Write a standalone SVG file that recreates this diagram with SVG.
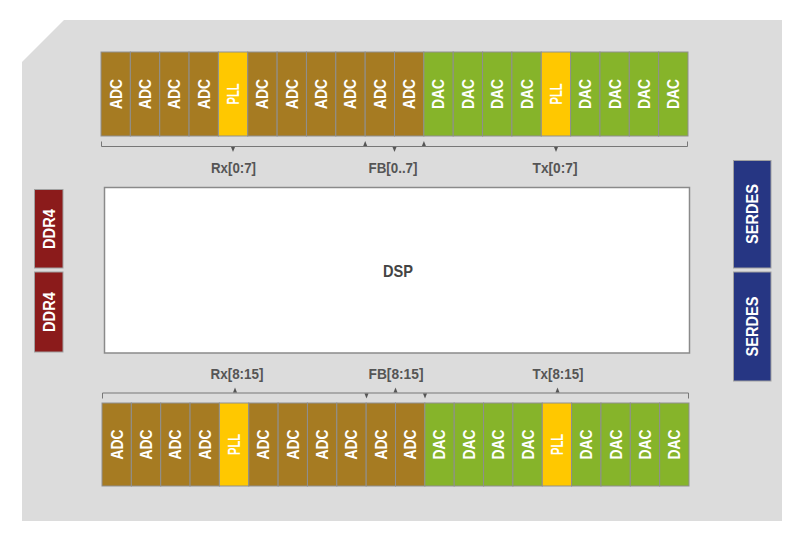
<svg xmlns="http://www.w3.org/2000/svg" width="800" height="539" viewBox="0 0 800 539">
<style>
.cell{stroke:#8f8f8f;stroke-width:1}
.adc{fill:#A67B22}
.pll{fill:#FFC800}
.dac{fill:#86B42A}
.ddr{fill:#8B1B1B;stroke:#a0a0a0;stroke-width:1}
.ser{fill:#263683;stroke:#a0a0a0;stroke-width:1}
.t{font-family:"Liberation Sans",Arial,sans-serif;font-weight:bold;font-size:16.5px;fill:#ffffff;text-anchor:middle}
.lbl{font-family:"Liberation Sans",Arial,sans-serif;font-weight:bold;font-size:14px;fill:#555555;text-anchor:middle}
.dsp{font-family:"Liberation Sans",Arial,sans-serif;font-weight:bold;font-size:17px;fill:#444444;text-anchor:middle}
.br{stroke:#777777;stroke-width:1;fill:none}
.ah{fill:#555555}
</style>
<defs>
<polygon id="dn" points="-2,0 2,0 0,5" class="ah"/>
<polygon id="up" points="-2,0 2,0 0,-5" class="ah"/>
</defs>
<path d="M22,62 L64,20 L782,20 L782,521 L22,521 Z" fill="#DCDCDC"/>

<g id="top-row">
<g id="top-adc-0"><rect class="cell adc" x="101" y="52" width="29.35" height="84"/><text class="t" transform="translate(115.68,94) rotate(-90)" dy="0.36em" textLength="30" lengthAdjust="spacingAndGlyphs">ADC</text></g>
<g id="top-adc-1"><rect class="cell adc" x="130.35" y="52" width="29.35" height="84"/><text class="t" transform="translate(145.03,94) rotate(-90)" dy="0.36em" textLength="30" lengthAdjust="spacingAndGlyphs">ADC</text></g>
<g id="top-adc-2"><rect class="cell adc" x="159.7" y="52" width="29.35" height="84"/><text class="t" transform="translate(174.38,94) rotate(-90)" dy="0.36em" textLength="30" lengthAdjust="spacingAndGlyphs">ADC</text></g>
<g id="top-adc-3"><rect class="cell adc" x="189.05" y="52" width="29.35" height="84"/><text class="t" transform="translate(203.73,94) rotate(-90)" dy="0.36em" textLength="30" lengthAdjust="spacingAndGlyphs">ADC</text></g>
<g id="top-pll-rx"><rect class="cell pll" x="218.4" y="52" width="29.35" height="84"/><text class="t" transform="translate(233.08,94) rotate(-90)" dy="0.36em" textLength="21" lengthAdjust="spacingAndGlyphs">PLL</text></g>
<g id="top-adc-4"><rect class="cell adc" x="247.75" y="52" width="29.35" height="84"/><text class="t" transform="translate(262.43,94) rotate(-90)" dy="0.36em" textLength="30" lengthAdjust="spacingAndGlyphs">ADC</text></g>
<g id="top-adc-5"><rect class="cell adc" x="277.1" y="52" width="29.35" height="84"/><text class="t" transform="translate(291.78,94) rotate(-90)" dy="0.36em" textLength="30" lengthAdjust="spacingAndGlyphs">ADC</text></g>
<g id="top-adc-6"><rect class="cell adc" x="306.45" y="52" width="29.35" height="84"/><text class="t" transform="translate(321.13,94) rotate(-90)" dy="0.36em" textLength="30" lengthAdjust="spacingAndGlyphs">ADC</text></g>
<g id="top-adc-7"><rect class="cell adc" x="335.8" y="52" width="29.35" height="84"/><text class="t" transform="translate(350.48,94) rotate(-90)" dy="0.36em" textLength="30" lengthAdjust="spacingAndGlyphs">ADC</text></g>
<g id="top-fb-0"><rect class="cell adc" x="365.15" y="52" width="29.35" height="84"/><text class="t" transform="translate(379.83,94) rotate(-90)" dy="0.36em" textLength="30" lengthAdjust="spacingAndGlyphs">ADC</text></g>
<g id="top-fb-1"><rect class="cell adc" x="394.5" y="52" width="29.35" height="84"/><text class="t" transform="translate(409.18,94) rotate(-90)" dy="0.36em" textLength="30" lengthAdjust="spacingAndGlyphs">ADC</text></g>
<g id="top-dac-0"><rect class="cell dac" x="423.85" y="52" width="29.35" height="84"/><text class="t" transform="translate(438.53,94) rotate(-90)" dy="0.36em" textLength="30" lengthAdjust="spacingAndGlyphs">DAC</text></g>
<g id="top-dac-1"><rect class="cell dac" x="453.2" y="52" width="29.35" height="84"/><text class="t" transform="translate(467.88,94) rotate(-90)" dy="0.36em" textLength="30" lengthAdjust="spacingAndGlyphs">DAC</text></g>
<g id="top-dac-2"><rect class="cell dac" x="482.55" y="52" width="29.35" height="84"/><text class="t" transform="translate(497.23,94) rotate(-90)" dy="0.36em" textLength="30" lengthAdjust="spacingAndGlyphs">DAC</text></g>
<g id="top-dac-3"><rect class="cell dac" x="511.9" y="52" width="29.35" height="84"/><text class="t" transform="translate(526.58,94) rotate(-90)" dy="0.36em" textLength="30" lengthAdjust="spacingAndGlyphs">DAC</text></g>
<g id="top-pll-tx"><rect class="cell pll" x="541.25" y="52" width="29.35" height="84"/><text class="t" transform="translate(555.93,94) rotate(-90)" dy="0.36em" textLength="21" lengthAdjust="spacingAndGlyphs">PLL</text></g>
<g id="top-dac-4"><rect class="cell dac" x="570.6" y="52" width="29.35" height="84"/><text class="t" transform="translate(585.28,94) rotate(-90)" dy="0.36em" textLength="30" lengthAdjust="spacingAndGlyphs">DAC</text></g>
<g id="top-dac-5"><rect class="cell dac" x="599.95" y="52" width="29.35" height="84"/><text class="t" transform="translate(614.63,94) rotate(-90)" dy="0.36em" textLength="30" lengthAdjust="spacingAndGlyphs">DAC</text></g>
<g id="top-dac-6"><rect class="cell dac" x="629.3" y="52" width="29.35" height="84"/><text class="t" transform="translate(643.98,94) rotate(-90)" dy="0.36em" textLength="30" lengthAdjust="spacingAndGlyphs">DAC</text></g>
<g id="top-dac-7"><rect class="cell dac" x="658.65" y="52" width="29.35" height="84"/><text class="t" transform="translate(673.33,94) rotate(-90)" dy="0.36em" textLength="30" lengthAdjust="spacingAndGlyphs">DAC</text></g>
</g>

<g id="bottom-row" transform="translate(1,351)">
<g id="bot-adc-0"><rect class="cell adc" x="101" y="52" width="29.35" height="83"/><text class="t" transform="translate(115.68,93.5) rotate(-90)" dy="0.36em" textLength="30" lengthAdjust="spacingAndGlyphs">ADC</text></g>
<g id="bot-adc-1"><rect class="cell adc" x="130.35" y="52" width="29.35" height="83"/><text class="t" transform="translate(145.03,93.5) rotate(-90)" dy="0.36em" textLength="30" lengthAdjust="spacingAndGlyphs">ADC</text></g>
<g id="bot-adc-2"><rect class="cell adc" x="159.7" y="52" width="29.35" height="83"/><text class="t" transform="translate(174.38,93.5) rotate(-90)" dy="0.36em" textLength="30" lengthAdjust="spacingAndGlyphs">ADC</text></g>
<g id="bot-adc-3"><rect class="cell adc" x="189.05" y="52" width="29.35" height="83"/><text class="t" transform="translate(203.73,93.5) rotate(-90)" dy="0.36em" textLength="30" lengthAdjust="spacingAndGlyphs">ADC</text></g>
<g id="bot-pll-rx"><rect class="cell pll" x="218.4" y="52" width="29.35" height="83"/><text class="t" transform="translate(233.08,93.5) rotate(-90)" dy="0.36em" textLength="21" lengthAdjust="spacingAndGlyphs">PLL</text></g>
<g id="bot-adc-4"><rect class="cell adc" x="247.75" y="52" width="29.35" height="83"/><text class="t" transform="translate(262.43,93.5) rotate(-90)" dy="0.36em" textLength="30" lengthAdjust="spacingAndGlyphs">ADC</text></g>
<g id="bot-adc-5"><rect class="cell adc" x="277.1" y="52" width="29.35" height="83"/><text class="t" transform="translate(291.78,93.5) rotate(-90)" dy="0.36em" textLength="30" lengthAdjust="spacingAndGlyphs">ADC</text></g>
<g id="bot-adc-6"><rect class="cell adc" x="306.45" y="52" width="29.35" height="83"/><text class="t" transform="translate(321.13,93.5) rotate(-90)" dy="0.36em" textLength="30" lengthAdjust="spacingAndGlyphs">ADC</text></g>
<g id="bot-adc-7"><rect class="cell adc" x="335.8" y="52" width="29.35" height="83"/><text class="t" transform="translate(350.48,93.5) rotate(-90)" dy="0.36em" textLength="30" lengthAdjust="spacingAndGlyphs">ADC</text></g>
<g id="bot-fb-0"><rect class="cell adc" x="365.15" y="52" width="29.35" height="83"/><text class="t" transform="translate(379.83,93.5) rotate(-90)" dy="0.36em" textLength="30" lengthAdjust="spacingAndGlyphs">ADC</text></g>
<g id="bot-fb-1"><rect class="cell adc" x="394.5" y="52" width="29.35" height="83"/><text class="t" transform="translate(409.18,93.5) rotate(-90)" dy="0.36em" textLength="30" lengthAdjust="spacingAndGlyphs">ADC</text></g>
<g id="bot-dac-0"><rect class="cell dac" x="423.85" y="52" width="29.35" height="83"/><text class="t" transform="translate(438.53,93.5) rotate(-90)" dy="0.36em" textLength="30" lengthAdjust="spacingAndGlyphs">DAC</text></g>
<g id="bot-dac-1"><rect class="cell dac" x="453.2" y="52" width="29.35" height="83"/><text class="t" transform="translate(467.88,93.5) rotate(-90)" dy="0.36em" textLength="30" lengthAdjust="spacingAndGlyphs">DAC</text></g>
<g id="bot-dac-2"><rect class="cell dac" x="482.55" y="52" width="29.35" height="83"/><text class="t" transform="translate(497.23,93.5) rotate(-90)" dy="0.36em" textLength="30" lengthAdjust="spacingAndGlyphs">DAC</text></g>
<g id="bot-dac-3"><rect class="cell dac" x="511.9" y="52" width="29.35" height="83"/><text class="t" transform="translate(526.58,93.5) rotate(-90)" dy="0.36em" textLength="30" lengthAdjust="spacingAndGlyphs">DAC</text></g>
<g id="bot-pll-tx"><rect class="cell pll" x="541.25" y="52" width="29.35" height="83"/><text class="t" transform="translate(555.93,93.5) rotate(-90)" dy="0.36em" textLength="21" lengthAdjust="spacingAndGlyphs">PLL</text></g>
<g id="bot-dac-4"><rect class="cell dac" x="570.6" y="52" width="29.35" height="83"/><text class="t" transform="translate(585.28,93.5) rotate(-90)" dy="0.36em" textLength="30" lengthAdjust="spacingAndGlyphs">DAC</text></g>
<g id="bot-dac-5"><rect class="cell dac" x="599.95" y="52" width="29.35" height="83"/><text class="t" transform="translate(614.63,93.5) rotate(-90)" dy="0.36em" textLength="30" lengthAdjust="spacingAndGlyphs">DAC</text></g>
<g id="bot-dac-6"><rect class="cell dac" x="629.3" y="52" width="29.35" height="83"/><text class="t" transform="translate(643.98,93.5) rotate(-90)" dy="0.36em" textLength="30" lengthAdjust="spacingAndGlyphs">DAC</text></g>
<g id="bot-dac-7"><rect class="cell dac" x="658.65" y="52" width="29.35" height="83"/><text class="t" transform="translate(673.33,93.5) rotate(-90)" dy="0.36em" textLength="30" lengthAdjust="spacingAndGlyphs">DAC</text></g>
</g>

<g id="dsp"><rect x="104.5" y="187.5" width="585" height="165.5" fill="#ffffff" stroke="#8a8a8a" stroke-width="1.5"/><text class="dsp" x="398" y="277" textLength="30" lengthAdjust="spacingAndGlyphs">DSP</text></g>

<g id="ddr4-1"><rect class="ddr" x="34.5" y="189.5" width="28.5" height="78.5"/><text class="t" transform="translate(48.75,229) rotate(-90)" dy="0.36em" textLength="40" lengthAdjust="spacingAndGlyphs">DDR4</text></g>
<g id="ddr4-2"><rect class="ddr" x="34.5" y="272" width="28.5" height="80"/><text class="t" transform="translate(48.75,312) rotate(-90)" dy="0.36em" textLength="40" lengthAdjust="spacingAndGlyphs">DDR4</text></g>

<g id="serdes-1"><rect class="ser" x="733.5" y="160.5" width="37.5" height="107.5"/><text class="t" transform="translate(752.25,214) rotate(-90)" dy="0.36em" textLength="60" lengthAdjust="spacingAndGlyphs">SERDES</text></g>
<g id="serdes-2"><rect class="ser" x="733.5" y="272" width="37.5" height="109"/><text class="t" transform="translate(752.25,326.5) rotate(-90)" dy="0.36em" textLength="60" lengthAdjust="spacingAndGlyphs">SERDES</text></g>

<g id="connectors">
<path class="br" d="M101.5,141.5 V146.5 H687.5 V141.5"/>
<use href="#dn" x="233" y="147"/>
<use href="#up" x="365.2" y="146"/>
<use href="#dn" x="394.5" y="147"/>
<use href="#up" x="423.9" y="146"/>
<use href="#dn" x="556" y="147"/>
<path class="br" d="M102.5,398.5 V393 H688.5 V398.5"/>
<use href="#up" x="235" y="392.5"/>
<use href="#dn" x="366.5" y="393.5"/>
<use href="#up" x="395.5" y="392.5"/>
<use href="#dn" x="425" y="393.5"/>
<use href="#up" x="557.5" y="392.5"/>
</g>

<g id="labels">
<text class="lbl" x="233.5" y="173" textLength="45" lengthAdjust="spacingAndGlyphs">Rx[0:7]</text>
<text class="lbl" x="393" y="173" textLength="49" lengthAdjust="spacingAndGlyphs">FB[0..7]</text>
<text class="lbl" x="555" y="173" textLength="45" lengthAdjust="spacingAndGlyphs">Tx[0:7]</text>
<text class="lbl" x="237" y="379" textLength="53" lengthAdjust="spacingAndGlyphs">Rx[8:15]</text>
<text class="lbl" x="396" y="379" textLength="55" lengthAdjust="spacingAndGlyphs">FB[8:15]</text>
<text class="lbl" x="558" y="379" textLength="51" lengthAdjust="spacingAndGlyphs">Tx[8:15]</text>
</g>
</svg>
